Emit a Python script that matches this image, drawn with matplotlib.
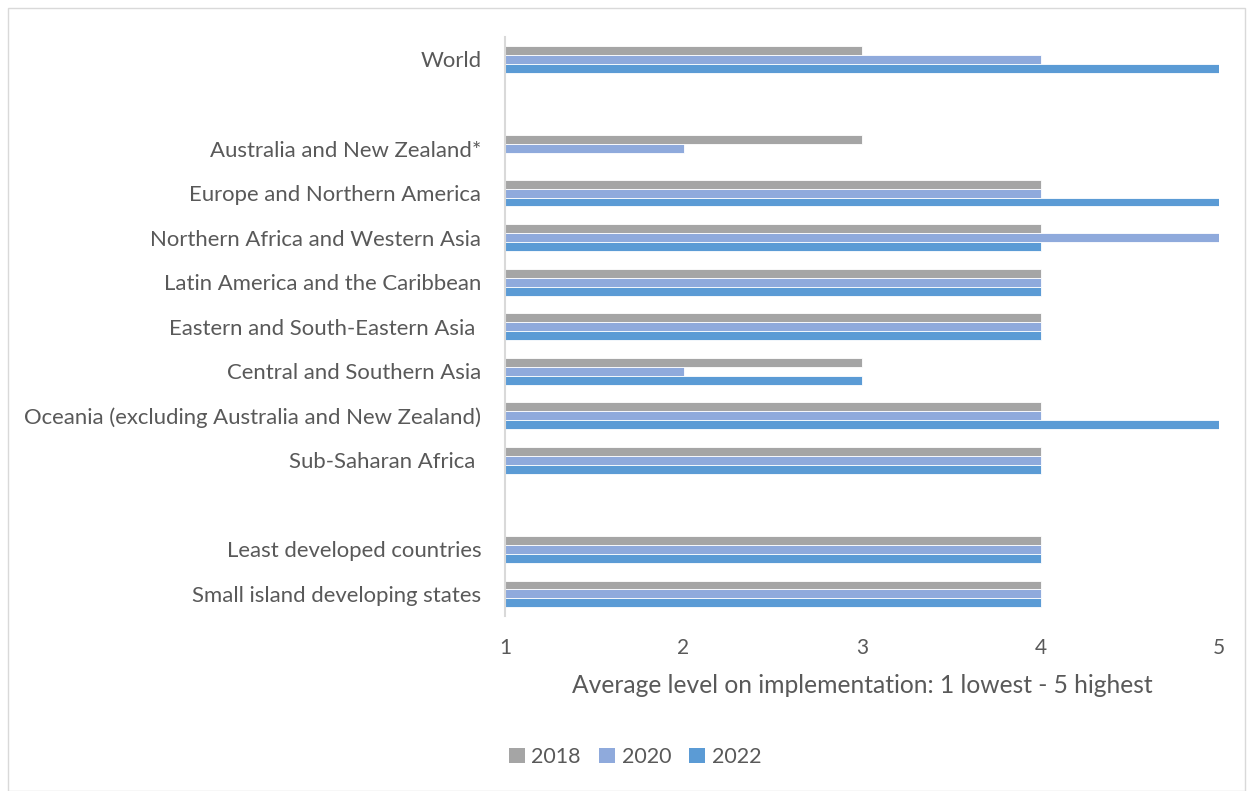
import numpy as np
import matplotlib.pyplot as plt
from matplotlib.patches import Rectangle

# rows from top to bottom, '' marks an empty gap row
categories = ['World', '', 'Australia and New Zealand*', 'Europe and Northern America',
              'Northern Africa and Western Asia', 'Latin America and the Caribbean',
              'Eastern and South-Eastern Asia ', 'Central and Southern Asia',
              'Oceania (excluding Australia and New Zealand)', 'Sub-Saharan Africa ',
              '', 'Least developed countries', 'Small island developing states']
nan = np.nan
v2018 = [3, nan, 3, 4, 4, 4, 4, 3, 4, 4, nan, 4, 4]
v2020 = [4, nan, 2, 4, 5, 4, 4, 2, 4, 4, nan, 4, 4]
v2022 = [5, nan, nan, 5, 4, 4, 4, 3, 5, 4, nan, 4, 4]
years = ['2018', '2020', '2022']
colors = ['#A5A5A5', '#8FAADC', '#5B9BD5']

plt.rcParams['font.family'] = ['Lato', 'DejaVu Sans']
text_color = '#595959'

fig = plt.figure(figsize=(12.5, 7.91), dpi=100)
ax = fig.add_axes([0.404, 0.221, 0.5712, 0.732])

y = np.arange(len(categories))
h = 0.2
for i, (vals, yr, c) in enumerate(zip([v2018, v2020, v2022], years, colors)):
    vals = np.array(vals, dtype=float)
    ax.barh(y + (i - 1) * h, vals - 1, left=1, height=h, color=c, label=yr,
            edgecolor='white', linewidth=0.6)

ax.set_ylim(len(categories) - 0.5, -0.5)
ax.set_xlim(1, 5)
ax.set_yticks(y)
ax.set_yticklabels(categories, fontsize=15.9, color=text_color)
ax.set_xticks([1, 2, 3, 4, 5])
ax.tick_params(axis='x', length=0, pad=16, labelsize=15, labelcolor=text_color)
ax.tick_params(axis='y', length=0, pad=17)
for s in ['top', 'right', 'bottom']:
    ax.spines[s].set_visible(False)
ax.spines['left'].set_color('#D9D9D9')
ax.spines['left'].set_linewidth(1.5)
ax.set_xlabel('Average level on implementation: 1 lowest - 5 highest',
              fontsize=17.7, color=text_color, labelpad=11)

leg = fig.legend(loc='center', bbox_to_anchor=(0.508, 0.043), ncol=3, frameon=False,
                 fontsize=15.5, handlelength=0.75, handleheight=0.75, columnspacing=0.85,
                 handletextpad=0.3)
for t in leg.get_texts():
    t.set_color(text_color)
for p in leg.legend_handles:
    p.set_linewidth(0)

fig.patches.append(Rectangle((0.006, 0.0), 0.99, 0.99, transform=fig.transFigure,
                             fill=False, edgecolor='#D9D9D9', linewidth=1))

fig.savefig('out.png', dpi=100)
